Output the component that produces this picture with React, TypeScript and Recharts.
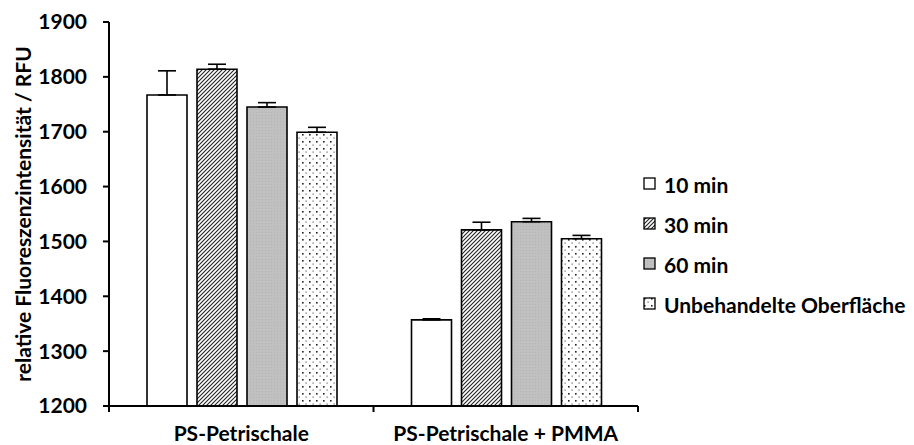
import React from "react";
import { BarChart, Bar, XAxis, YAxis, ErrorBar, Legend } from "recharts";

const categories = ["PS-Petrischale", "PS-Petrischale + PMMA"];
const seriesNames = ["10 min", "30 min", "60 min", "Unbehandelte Oberfläche"];
const min10 = [1767, 1357];
const min10Err = [44, 2];
const min30 = [1814, 1521];
const min30Err = [9, 14];
const min60 = [1745, 1536];
const min60Err = [8, 6];
const untreated = [1699, 1505];
const untreatedErr = [9, 6];
const yTicks = [1200, 1300, 1400, 1500, 1600, 1700, 1800, 1900];

const data = categories.map((c, i) => ({
  name: c,
  s10: min10[i],
  e10: [0, min10Err[i]],
  s30: min30[i],
  e30: [0, min30Err[i]],
  s60: min60[i],
  e60: [0, min60Err[i]],
  su: untreated[i],
  eu: [0, untreatedErr[i]],
}));

const FONT = "Lato, 'Open Sans', sans-serif";
const FS = 21;
const fills = ["#ffffff", "url(#hatch)", "url(#gray)", "url(#dots)"];

const Patterns = () => (
  <defs>
    <pattern id="hatch" width="4" height="4" patternUnits="userSpaceOnUse">
      <rect width="4" height="4" fill="#ffffff" />
      <path d="M0,4 L4,0 M-1,1 L1,-1 M3,5 L5,3" stroke="#222" strokeWidth="1.1" />
    </pattern>
    <pattern id="gray" width="3" height="3" patternUnits="userSpaceOnUse">
      <rect width="3" height="3" fill="#c0c0c0" />
      <rect x="1" y="1" width="1" height="1" fill="#b4b4b4" />
    </pattern>
    <pattern id="dots" width="7" height="7" patternUnits="userSpaceOnUse">
      <rect width="7" height="7" fill="#ffffff" />
      <rect x="1" y="1" width="1.6" height="1.6" fill="#222" />
      <rect x="4.5" y="4.5" width="1.2" height="1.2" fill="#666" />
    </pattern>
  </defs>
);

const LegendContent = () => (
  <div style={{ fontFamily: FONT, fontWeight: 700, fontSize: FS, color: "#000" }}>
    {seriesNames.map((n, i) => (
      <div key={n} style={{ display: "flex", alignItems: "center", height: 40 }}>
        <svg width={14} height={14} style={{ marginRight: 7 }}>
          <rect x={1} y={1} width={11} height={11} fill={fills[i]} stroke="#000" strokeWidth={1.3} />
        </svg>
        <span>{n}</span>
      </div>
    ))}
  </div>
);

const YLabel = (props: any) => {
  const vb = props.viewBox;
  const x = vb.x + 22;
  const y = vb.y + vb.height / 2;
  return (
    <text
      x={x}
      y={y}
      transform={`rotate(-90, ${x}, ${y})`}
      textAnchor="middle"
      dominantBaseline="central"
      fontFamily={FONT}
      fontWeight={700}
      fontSize={FS}
      fill="#000"
    >
      relative Fluoreszenzintensität / RFU
    </text>
  );
};

// Category tick: label plus tick marks at both band edges
const CategoryTick = (props: any) => {
  const { x, y, payload, index, visibleTicksCount } = props;
  const half = payload && payload.offset ? payload.offset : 0;
  const axisY = y - 20;
  return (
    <g>
      <line x1={x - half} x2={x - half} y1={axisY} y2={axisY + 6} stroke="#000" strokeWidth={2} />
      {index === visibleTicksCount - 1 ? (
        <line x1={x + half} x2={x + half} y1={axisY} y2={axisY + 6} stroke="#000" strokeWidth={2} />
      ) : null}
      <text
        x={x}
        y={y}
        dy="0.71em"
        textAnchor="middle"
        fontFamily={FONT}
        fontWeight={700}
        fontSize={FS}
        fill="#000"
      >
        {payload.value}
      </text>
    </g>
  );
};

const tickStyle = { fontFamily: FONT, fontWeight: 700, fontSize: FS, fill: "#000" };

export default function App() {
  return (
    <div style={{ position: "absolute", left: 0, top: 0, background: "#fff" }}>
      <BarChart
        width={914}
        height={445}
        data={data}
        margin={{ top: 22, right: 276, bottom: 0, left: 0 }}
        barCategoryGap={38}
        barGap={10}
      >
        <Patterns />
        <XAxis
          dataKey="name"
          tickLine={false}
          tickSize={6}
          tickMargin={14}
          axisLine={{ stroke: "#000", strokeWidth: 2 }}
          tick={<CategoryTick />}
          height={39}
          interval={0}
        />
        <YAxis
          domain={[1200, 1900]}
          ticks={yTicks}
          width={109}
          tick={tickStyle}
          tickSize={6}
          tickMargin={16}
          tickLine={{ stroke: "#000", strokeWidth: 2 }}
          axisLine={{ stroke: "#000", strokeWidth: 2 }}
          label={<YLabel />}
          allowDataOverflow
        />
        <Legend
          layout="vertical"
          align="center"
          verticalAlign="middle"
          content={<LegendContent />}
          wrapperStyle={{ left: 643, top: 164, width: 271, height: 160 }}
        />
        <Bar dataKey="s10" name={seriesNames[0]} fill={fills[0]} stroke="#000" strokeWidth={1.6} isAnimationActive={false}>
          <ErrorBar dataKey="e10" width={9} stroke="#000" strokeWidth={1.6} direction="y" />
        </Bar>
        <Bar dataKey="s30" name={seriesNames[1]} fill={fills[1]} stroke="#000" strokeWidth={1.6} isAnimationActive={false}>
          <ErrorBar dataKey="e30" width={9} stroke="#000" strokeWidth={1.6} direction="y" />
        </Bar>
        <Bar dataKey="s60" name={seriesNames[2]} fill={fills[2]} stroke="#000" strokeWidth={1.6} isAnimationActive={false}>
          <ErrorBar dataKey="e60" width={9} stroke="#000" strokeWidth={1.6} direction="y" />
        </Bar>
        <Bar dataKey="su" name={seriesNames[3]} fill={fills[3]} stroke="#000" strokeWidth={1.6} isAnimationActive={false}>
          <ErrorBar dataKey="eu" width={9} stroke="#000" strokeWidth={1.6} direction="y" />
        </Bar>
      </BarChart>
    </div>
  );
}
